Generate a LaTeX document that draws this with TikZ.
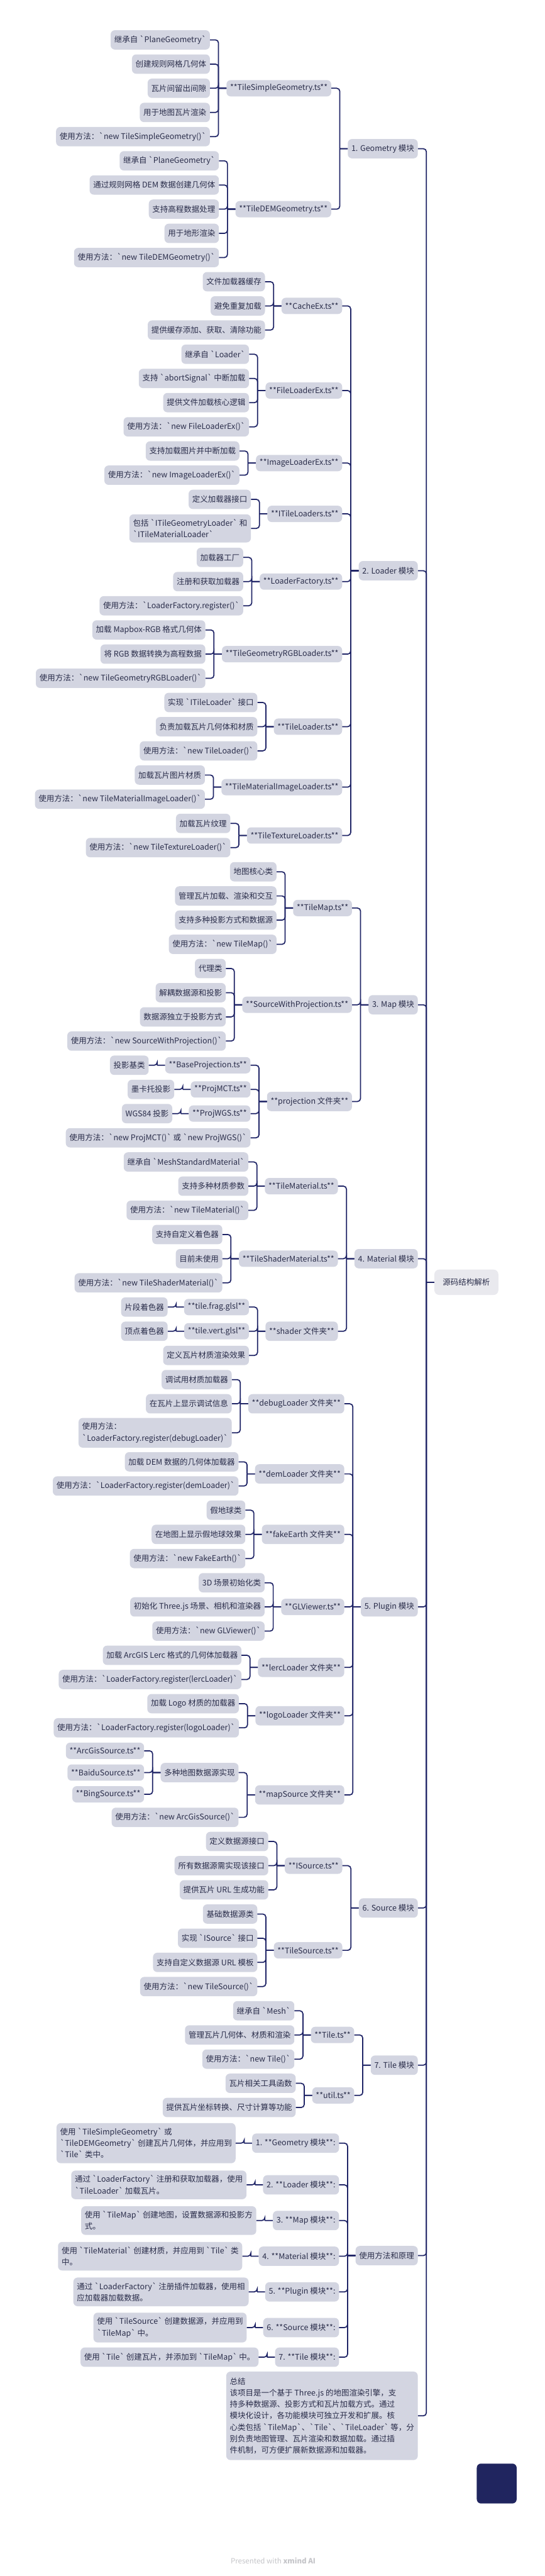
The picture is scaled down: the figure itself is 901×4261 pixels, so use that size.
\documentclass[tikz,border=0pt]{standalone}
\usepackage{fontspec}
\newfontfamily\cjk{Noto Sans CJK SC}
\usepackage{tikz}
\definecolor{boxfill}{HTML}{D3D5E1}
\definecolor{rootfill}{HTML}{E9E9EE}
\definecolor{linec}{HTML}{1F2466}
\definecolor{textc}{HTML}{2A2D4A}
\definecolor{navy}{HTML}{20255F}
\definecolor{footc}{HTML}{C4C4C8}

\begin{document}
\begin{tikzpicture}[x=1pt, y=-1pt, font=\cjk\fontsize{13pt}{19pt}\selectfont, text=textc,
  topic/.style={fill=boxfill, rounded corners=7pt, inner xsep=6pt, inner ysep=8pt, minimum height=32pt, align=left, anchor=east, xshift=-27pt},
  file/.style={topic, inner ysep=4pt, minimum height=27pt},
  root/.style={fill=rootfill, rounded corners=8pt, inner xsep=14pt, minimum height=42pt, anchor=east},
  every edge/.style={draw=linec, line width=1.8pt, rounded corners=5pt,
    to path={([xshift=-13pt]\tikztostart.west) |- (\tikztotarget.east) ([xshift=-13pt]\tikztostart.west) -- (\tikztostart.west)}}]
  \useasboundingbox (0,0) rectangle (901,4261);

  \node[root] (root) at (825,2121) {源码结构解析};

  \node[topic] (g) at (root.west |- 0,246) {1. Geometry 模块};
  \node[file] (gs) at (g.west |- 0,146) {**TileSimpleGeometry.ts**};
  \node[topic] (gs1) at (gs.west |- 0,66) {继承自 `PlaneGeometry`};
  \node[topic] (gs2) at (gs.west |- 0,106) {创建规则网格几何体};
  \node[topic] (gs3) at (gs.west |- 0,146) {瓦片间留出间隙};
  \node[topic] (gs4) at (gs.west |- 0,186) {用于地图瓦片渲染};
  \node[topic] (gs5) at (gs.west |- 0,226) {使用方法：`new TileSimpleGeometry()`};
  \node[file] (gd) at (g.west |- 0,346) {**TileDEMGeometry.ts**};
  \node[topic] (gd1) at (gd.west |- 0,266) {继承自 `PlaneGeometry`};
  \node[topic] (gd2) at (gd.west |- 0,306) {通过规则网格 DEM 数据创建几何体};
  \node[topic] (gd3) at (gd.west |- 0,346) {支持高程数据处理};
  \node[topic] (gd4) at (gd.west |- 0,386) {用于地形渲染};
  \node[topic] (gd5) at (gd.west |- 0,426) {使用方法：`new TileDEMGeometry()`};

  \node[topic] (l) at (root.west |- 0,944) {2. Loader 模块};
  \node[file] (lc) at (l.west |- 0,506) {**CacheEx.ts**};
  \node[topic] (lc1) at (lc.west |- 0,466) {文件加载器缓存};
  \node[topic] (lc2) at (lc.west |- 0,506) {避免重复加载};
  \node[topic] (lc3) at (lc.west |- 0,546) {提供缓存添加、获取、清除功能};
  \node[file] (lf) at (l.west |- 0,646) {**FileLoaderEx.ts**};
  \node[topic] (lf1) at (lf.west |- 0,586) {继承自 `Loader`};
  \node[topic] (lf2) at (lf.west |- 0,626) {支持 `abortSignal` 中断加载};
  \node[topic] (lf3) at (lf.west |- 0,666) {提供文件加载核心逻辑};
  \node[topic] (lf4) at (lf.west |- 0,706) {使用方法：`new FileLoaderEx()`};
  \node[file] (li) at (l.west |- 0,766) {**ImageLoaderEx.ts**};
  \node[topic] (li1) at (li.west |- 0,746) {支持加载图片并中断加载};
  \node[topic] (li2) at (li.west |- 0,786) {使用方法：`new ImageLoaderEx()`};
  \node[file] (lt) at (l.west |- 0,850) {**ITileLoaders.ts**};
  \node[topic] (lt1) at (lt.west |- 0,826) {定义加载器接口};
  \node[topic] (lt2) at (lt.west |- 0,874) {包括 `ITileGeometryLoader` 和\\`ITileMaterialLoader`};
  \node[file] (lfa) at (l.west |- 0,962) {**LoaderFactory.ts**};
  \node[topic] (lfa1) at (lfa.west |- 0,922) {加载器工厂};
  \node[topic] (lfa2) at (lfa.west |- 0,962) {注册和获取加载器};
  \node[topic] (lfa3) at (lfa.west |- 0,1002) {使用方法：`LoaderFactory.register()`};
  \node[file] (lr) at (l.west |- 0,1082) {**TileGeometryRGBLoader.ts**};
  \node[topic] (lr1) at (lr.west |- 0,1042) {加载 Mapbox-RGB 格式几何体};
  \node[topic] (lr2) at (lr.west |- 0,1082) {将 RGB 数据转换为高程数据};
  \node[topic] (lr3) at (lr.west |- 0,1122) {使用方法：`new TileGeometryRGBLoader()`};
  \node[file] (ll) at (l.west |- 0,1202) {**TileLoader.ts**};
  \node[topic] (ll1) at (ll.west |- 0,1162) {实现 `ITileLoader` 接口};
  \node[topic] (ll2) at (ll.west |- 0,1202) {负责加载瓦片几何体和材质};
  \node[topic] (ll3) at (ll.west |- 0,1242) {使用方法：`new TileLoader()`};
  \node[file] (lm) at (l.west |- 0,1302) {**TileMaterialImageLoader.ts**};
  \node[topic] (lm1) at (lm.west |- 0,1282) {加载瓦片图片材质};
  \node[topic] (lm2) at (lm.west |- 0,1322) {使用方法：`new TileMaterialImageLoader()`};
  \node[file] (lx) at (l.west |- 0,1382) {**TileTextureLoader.ts**};
  \node[topic] (lx1) at (lx.west |- 0,1362) {加载瓦片纹理};
  \node[topic] (lx2) at (lx.west |- 0,1402) {使用方法：`new TileTextureLoader()`};

  \node[topic] (m) at (root.west |- 0,1662) {3. Map 模块};
  \node[file] (mt) at (m.west |- 0,1502) {**TileMap.ts**};
  \node[topic] (mt1) at (mt.west |- 0,1442) {地图核心类};
  \node[topic] (mt2) at (mt.west |- 0,1482) {管理瓦片加载、渲染和交互};
  \node[topic] (mt3) at (mt.west |- 0,1522) {支持多种投影方式和数据源};
  \node[topic] (mt4) at (mt.west |- 0,1562) {使用方法：`new TileMap()`};
  \node[file] (ms) at (m.west |- 0,1662) {**SourceWithProjection.ts**};
  \node[topic] (ms1) at (ms.west |- 0,1602) {代理类};
  \node[topic] (ms2) at (ms.west |- 0,1642) {解耦数据源和投影};
  \node[topic] (ms3) at (ms.west |- 0,1682) {数据源独立于投影方式};
  \node[topic] (ms4) at (ms.west |- 0,1722) {使用方法：`new SourceWithProjection()`};
  \node[topic] (mp) at (m.west |- 0,1822) {**projection 文件夹**};
  \node[file] (mp1) at (mp.west |- 0,1762) {**BaseProjection.ts**};
  \node[topic] (mp1a) at (mp1.west |- 0,1762) {投影基类};
  \node[file] (mp2) at (mp.west |- 0,1802) {**ProjMCT.ts**};
  \node[topic] (mp2a) at (mp2.west |- 0,1802) {墨卡托投影};
  \node[file] (mp3) at (mp.west |- 0,1842) {**ProjWGS.ts**};
  \node[topic] (mp3a) at (mp3.west |- 0,1842) {WGS84 投影};
  \node[topic] (mp4) at (mp.west |- 0,1882) {使用方法：`new ProjMCT()` 或 `new ProjWGS()`};

  \node[topic] (t) at (root.west |- 0,2082) {4. Material 模块};
  \node[file] (tm) at (t.west |- 0,1962) {**TileMaterial.ts**};
  \node[topic] (tm1) at (tm.west |- 0,1922) {继承自 `MeshStandardMaterial`};
  \node[topic] (tm2) at (tm.west |- 0,1962) {支持多种材质参数};
  \node[topic] (tm3) at (tm.west |- 0,2002) {使用方法：`new TileMaterial()`};
  \node[file] (ts) at (t.west |- 0,2082) {**TileShaderMaterial.ts**};
  \node[topic] (ts1) at (ts.west |- 0,2042) {支持自定义着色器};
  \node[topic] (ts2) at (ts.west |- 0,2082) {目前未使用};
  \node[topic] (ts3) at (ts.west |- 0,2122) {使用方法：`new TileShaderMaterial()`};
  \node[topic] (tf) at (t.west |- 0,2202) {**shader 文件夹**};
  \node[file] (tf1) at (tf.west |- 0,2162) {**tile.frag.glsl**};
  \node[topic] (tf1a) at (tf1.west |- 0,2162) {片段着色器};
  \node[file] (tf2) at (tf.west |- 0,2202) {**tile.vert.glsl**};
  \node[topic] (tf2a) at (tf2.west |- 0,2202) {顶点着色器};
  \node[topic] (tf3) at (tf.west |- 0,2242) {定义瓦片材质渲染效果};

  \node[topic] (p) at (root.west |- 0,2658) {5. Plugin 模块};
  \node[topic] (pd) at (p.west |- 0,2322) {**debugLoader 文件夹**};
  \node[topic] (pd1) at (pd.west |- 0,2282) {调试用材质加载器};
  \node[topic] (pd2) at (pd.west |- 0,2322) {在瓦片上显示调试信息};
  \node[topic] (pd3) at (pd.west |- 0,2370) {使用方法：\\`LoaderFactory.register(debugLoader)`};
  \node[topic] (pe) at (p.west |- 0,2438) {**demLoader 文件夹**};
  \node[topic] (pe1) at (pe.west |- 0,2418) {加载 DEM 数据的几何体加载器};
  \node[topic] (pe2) at (pe.west |- 0,2458) {使用方法：`LoaderFactory.register(demLoader)`};
  \node[topic] (pf) at (p.west |- 0,2538) {**fakeEarth 文件夹**};
  \node[topic] (pf1) at (pf.west |- 0,2498) {假地球类};
  \node[topic] (pf2) at (pf.west |- 0,2538) {在地图上显示假地球效果};
  \node[topic] (pf3) at (pf.west |- 0,2578) {使用方法：`new FakeEarth()`};
  \node[file] (pg) at (p.west |- 0,2658) {**GLViewer.ts**};
  \node[topic] (pg1) at (pg.west |- 0,2618) {3D 场景初始化类};
  \node[topic] (pg2) at (pg.west |- 0,2658) {初始化 Three.js 场景、相机和渲染器};
  \node[topic] (pg3) at (pg.west |- 0,2698) {使用方法：`new GLViewer()`};
  \node[topic] (pl) at (p.west |- 0,2758) {**lercLoader 文件夹**};
  \node[topic] (pl1) at (pl.west |- 0,2738) {加载 ArcGIS Lerc 格式的几何体加载器};
  \node[topic] (pl2) at (pl.west |- 0,2778) {使用方法：`LoaderFactory.register(lercLoader)`};
  \node[topic] (po) at (p.west |- 0,2838) {**logoLoader 文件夹**};
  \node[topic] (po1) at (po.west |- 0,2818) {加载 Logo 材质的加载器};
  \node[topic] (po2) at (po.west |- 0,2858) {使用方法：`LoaderFactory.register(logoLoader)`};
  \node[topic] (pm) at (p.west |- 0,2969) {**mapSource 文件夹**};
  \node[topic] (pm1) at (pm.west |- 0,2932) {多种地图数据源实现};
  \node[file] (pm1a) at (pm1.west |- 0,2896) {**ArcGisSource.ts**};
  \node[file] (pm1b) at (pm1.west |- 0,2932) {**BaiduSource.ts**};
  \node[file] (pm1c) at (pm1.west |- 0,2968) {**BingSource.ts**};
  \node[topic] (pm2) at (pm.west |- 0,3006) {使用方法：`new ArcGisSource()`};

  \node[topic] (s) at (root.west |- 0,3156) {6. Source 模块};
  \node[file] (si) at (s.west |- 0,3086) {**ISource.ts**};
  \node[topic] (si1) at (si.west |- 0,3046) {定义数据源接口};
  \node[topic] (si2) at (si.west |- 0,3086) {所有数据源需实现该接口};
  \node[topic] (si3) at (si.west |- 0,3126) {提供瓦片 URL 生成功能};
  \node[file] (st) at (s.west |- 0,3226) {**TileSource.ts**};
  \node[topic] (st1) at (st.west |- 0,3166) {基础数据源类};
  \node[topic] (st2) at (st.west |- 0,3206) {实现 `ISource` 接口};
  \node[topic] (st3) at (st.west |- 0,3246) {支持自定义数据源 URL 模板};
  \node[topic] (st4) at (st.west |- 0,3286) {使用方法：`new TileSource()`};

  \node[topic] (k) at (root.west |- 0,3416) {7. Tile 模块};
  \node[file] (kt) at (k.west |- 0,3366) {**Tile.ts**};
  \node[topic] (kt1) at (kt.west |- 0,3326) {继承自 `Mesh`};
  \node[topic] (kt2) at (kt.west |- 0,3366) {管理瓦片几何体、材质和渲染};
  \node[topic] (kt3) at (kt.west |- 0,3406) {使用方法：`new Tile()`};
  \node[file] (ku) at (k.west |- 0,3466) {**util.ts**};
  \node[topic] (ku1) at (ku.west |- 0,3446) {瓦片相关工具函数};
  \node[topic] (ku2) at (ku.west |- 0,3486) {提供瓦片坐标转换、尺寸计算等功能};

  \node[topic] (u) at (root.west |- 0,3731) {使用方法和原理};
  \node[topic] (u1) at (u.west |- 0,3545) {1. **Geometry 模块**:};
  \node[topic] (u1a) at (u1.west |- 0,3545) {使用 `TileSimpleGeometry` 或\\`TileDEMGeometry` 创建瓦片几何体，并应用到\\`Tile` 类中。};
  \node[topic] (u2) at (u.west |- 0,3614) {2. **Loader 模块**:};
  \node[topic] (u2a) at (u2.west |- 0,3614) {通过 `LoaderFactory` 注册和获取加载器，使用\\`TileLoader` 加载瓦片。};
  \node[topic] (u3) at (u.west |- 0,3673) {3. **Map 模块**:};
  \node[topic] (u3a) at (u3.west |- 0,3673) {使用 `TileMap` 创建地图，设置数据源和投影方\\式。};
  \node[topic] (u4) at (u.west |- 0,3732) {4. **Material 模块**:};
  \node[topic] (u4a) at (u4.west |- 0,3732) {使用 `TileMaterial` 创建材质，并应用到 `Tile` 类\\中。};
  \node[topic] (u5) at (u.west |- 0,3791) {5. **Plugin 模块**:};
  \node[topic] (u5a) at (u5.west |- 0,3791) {通过 `LoaderFactory` 注册插件加载器，使用相\\应加载器加载数据。};
  \node[topic] (u6) at (u.west |- 0,3850) {6. **Source 模块**:};
  \node[topic] (u6a) at (u6.west |- 0,3850) {使用 `TileSource` 创建数据源，并应用到\\`TileMap` 中。};
  \node[topic] (u7) at (u.west |- 0,3899) {7. **Tile 模块**:};
  \node[topic] (u7a) at (u7.west |- 0,3899) {使用 `Tile` 创建瓦片，并添加到 `TileMap` 中。};

  \node[topic, inner ysep=10pt] (sum) at (root.west |- 0,3996) {总结\\该项目是一个基于 Three.js 的地图渲染引擎，支\\持多种数据源、投影方式和瓦片加载方式。通过\\模块化设计，各功能模块可独立开发和扩展。核\\心类包括 `TileMap`、`Tile`、`TileLoader` 等，分\\别负责地图管理、瓦片渲染和数据加载。通过插\\件机制，可方便扩展新数据源和加载器。};

  \node[fill=navy, rounded corners=7pt, minimum width=66pt, minimum height=66pt] (badge) at (822,4108) {};
  \node[text=footc, font=\cjk\fontsize{12pt}{14pt}\selectfont] (credit) at (452,4236) {Presented with \textbf{xmind AI}};

  \path (root) edge (g) edge (l) edge (m) edge (t) edge (p) edge (s) edge (k) edge (u) edge (sum);
  \path (g) edge (gs) edge (gd);
  \path (gs) edge (gs1) edge (gs2) edge (gs3) edge (gs4) edge (gs5);
  \path (gd) edge (gd1) edge (gd2) edge (gd3) edge (gd4) edge (gd5);
  \path (l) edge (lc) edge (lf) edge (li) edge (lt) edge (lfa) edge (lr) edge (ll) edge (lm) edge (lx);
  \path (lc) edge (lc1) edge (lc2) edge (lc3);
  \path (lf) edge (lf1) edge (lf2) edge (lf3) edge (lf4);
  \path (li) edge (li1) edge (li2);
  \path (lt) edge (lt1) edge (lt2);
  \path (lfa) edge (lfa1) edge (lfa2) edge (lfa3);
  \path (lr) edge (lr1) edge (lr2) edge (lr3);
  \path (ll) edge (ll1) edge (ll2) edge (ll3);
  \path (lm) edge (lm1) edge (lm2);
  \path (lx) edge (lx1) edge (lx2);
  \path (m) edge (mt) edge (ms) edge (mp);
  \path (mt) edge (mt1) edge (mt2) edge (mt3) edge (mt4);
  \path (ms) edge (ms1) edge (ms2) edge (ms3) edge (ms4);
  \path (mp) edge (mp1) edge (mp2) edge (mp3) edge (mp4);
  \path (mp1) edge (mp1a) (mp2) edge (mp2a) (mp3) edge (mp3a);
  \path (t) edge (tm) edge (ts) edge (tf);
  \path (tm) edge (tm1) edge (tm2) edge (tm3);
  \path (ts) edge (ts1) edge (ts2) edge (ts3);
  \path (tf) edge (tf1) edge (tf2) edge (tf3);
  \path (tf1) edge (tf1a) (tf2) edge (tf2a);
  \path (p) edge (pd) edge (pe) edge (pf) edge (pg) edge (pl) edge (po) edge (pm);
  \path (pd) edge (pd1) edge (pd2) edge (pd3);
  \path (pe) edge (pe1) edge (pe2);
  \path (pf) edge (pf1) edge (pf2) edge (pf3);
  \path (pg) edge (pg1) edge (pg2) edge (pg3);
  \path (pl) edge (pl1) edge (pl2);
  \path (po) edge (po1) edge (po2);
  \path (pm) edge (pm1) edge (pm2);
  \path (pm1) edge (pm1a) edge (pm1b) edge (pm1c);
  \path (s) edge (si) edge (st);
  \path (si) edge (si1) edge (si2) edge (si3);
  \path (st) edge (st1) edge (st2) edge (st3) edge (st4);
  \path (k) edge (kt) edge (ku);
  \path (kt) edge (kt1) edge (kt2) edge (kt3);
  \path (ku) edge (ku1) edge (ku2);
  \path (u) edge (u1) edge (u2) edge (u3) edge (u4) edge (u5) edge (u6) edge (u7);
  \path (u1) edge (u1a) (u2) edge (u2a) (u3) edge (u3a) (u4) edge (u4a) (u5) edge (u5a) (u6) edge (u6a) (u7) edge (u7a);
\end{tikzpicture}
\end{document}
